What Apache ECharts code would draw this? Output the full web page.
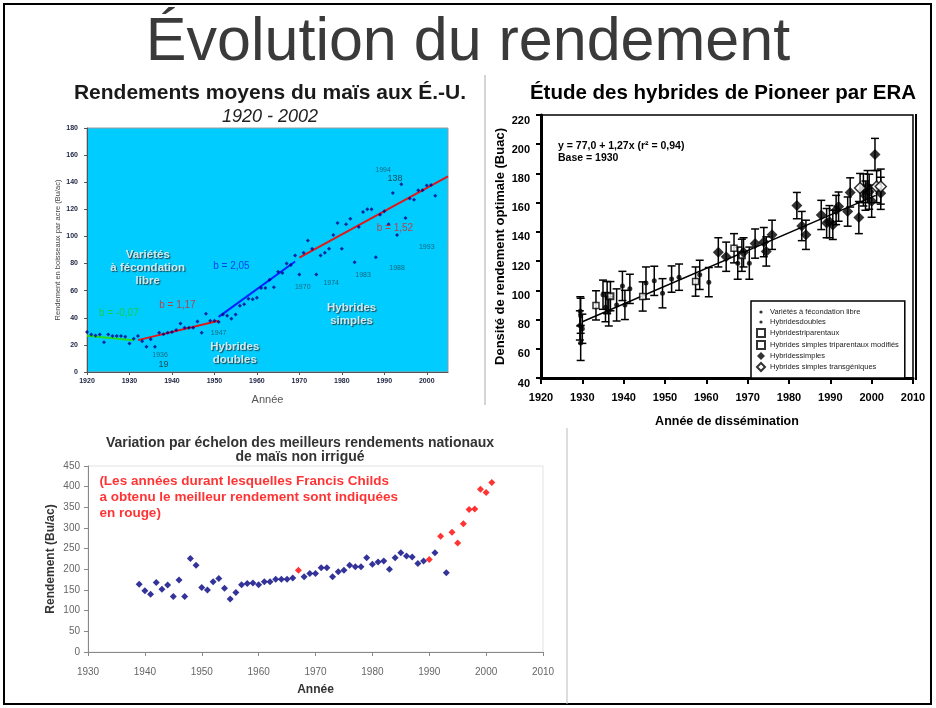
<!DOCTYPE html>
<html>
<head>
<meta charset="utf-8">
<script src="https://cdn.jsdelivr.net/npm/echarts@6/dist/echarts.min.js"></script>
<style>
html, body { margin: 0; padding: 0; background: #fff; }
#main { width: 936px; height: 708px; }
</style>
</head>
<body>
<div id="main"></div>
<script>
// ---- graphique 1 : rendements moyens du maïs aux É.-U. 1920 - 2002
const annees1 = [1920, 1921, 1922, 1923, 1924, 1925, 1926, 1927, 1928, 1929,
	1930, 1931, 1932, 1933, 1934, 1935, 1936, 1937, 1938, 1939,
	1940, 1941, 1942, 1943, 1944, 1945, 1946, 1947, 1948, 1949,
	1950, 1951, 1952, 1953, 1954, 1955, 1956, 1957, 1958, 1959,
	1960, 1961, 1962, 1963, 1964, 1965, 1966, 1967, 1968, 1969,
	1970, 1971, 1972, 1973, 1974, 1975, 1976, 1977, 1978, 1979,
	1980, 1981, 1982, 1983, 1984, 1985, 1986, 1987, 1988, 1989,
	1990, 1991, 1992, 1993, 1994, 1995, 1996, 1997, 1998, 1999,
	2000, 2001, 2002];
const rendements1 = [29.6, 27.6, 27.0, 27.6, 22.0, 27.7, 26.6, 26.6, 26.6, 26.0,
	21.0, 24.5, 26.5, 22.6, 18.7, 24.2, 18.6, 28.9, 27.9, 28.9,
	29.6, 31.0, 35.7, 32.6, 32.6, 32.6, 37.3, 28.9, 43.0, 37.8,
	37.8, 36.9, 42.5, 41.5, 39.3, 42.5, 48.9, 50.0, 54.0, 53.6,
	54.7, 62.0, 62.0, 68.0, 62.5, 74.0, 73.0, 80.0, 79.0, 86.0,
	72.0, 88.0, 97.0, 91.0, 72.0, 86.0, 88.0, 91.0, 101.0, 110.0,
	91.0, 109.0, 113.0, 81.0, 107.0, 118.0, 120.0, 120.0, 84.6, 116.0,
	118.5, 109.0, 132.0, 101.0, 138.5, 113.6, 128.0, 127.0, 134.0, 134.0,
	137.5, 138.0, 130.0];
// droites de tendance (pentes b)
const tendanceLibre = [[1920, 26.7], [1931, 23.5]];
const tendanceAvant = [[1932, 23.5], [1951, 37.8]];
const tendanceDoubles = [[1951, 40.7], [1969, 81.5]];
const tendanceSimples = [[1970, 84.4], [2005, 144.4]];

// ---- graphique 2 : hybrides Pioneer par ERA  [année, rendement, erreur]
const varietesLibres = [[1929.5, 85.6, 10], [1929.6, 82.6, 12], [1929.4, 76, 10], [1930, 73.7, 10], [1929.6, 64, 12]];
const hybridesDoubles = [[1935, 97, 10], [1936, 95, 11], [1935.6, 88.5, 10], [1936.4, 85.6, 10], [1938.3, 90, 11],
	[1939.7, 103, 10], [1940.3, 90, 10], [1941.5, 101, 10], [1945.4, 105, 11], [1947.4, 106.5, 10],
	[1949.4, 98, 10], [1951.6, 107.7, 9], [1953.4, 109, 9], [1958.4, 110.6, 10], [1960.6, 105.6, 10],
	[1967.6, 118.6, 11], [1970.4, 118.6, 11]];
const hybridesTri = [[1933.3, 89.7, 10], [1944.6, 95.8, 10], [1957.4, 106, 10], [1966.7, 128.8, 10]];
const hybridesTriMod = [[1936.8, 96, 10], [1968.6, 124, 11]];
const hybridesSimples = [[1962.9, 126, 10], [1964.8, 123, 10], [1969, 126, 10], [1971.8, 132, 10], [1973.9, 133, 10],
	[1974.5, 126.6, 10], [1975.9, 138, 10], [1981.9, 158, 9], [1983.1, 144, 10], [1984.1, 138, 10],
	[1987.8, 151.6, 10], [1989.1, 146, 10], [1989.8, 147, 11], [1990.6, 144.8, 10], [1991.4, 155, 10],
	[1992, 157.3, 10], [1994.2, 153.9, 10], [1994.8, 167, 10], [1996.9, 149.8, 11], [1998, 168.7, 11],
	[1998.5, 164.8, 10], [1999, 171, 11], [1999.4, 167.5, 12], [2000, 161, 11], [2000.8, 193, 11],
	[2002.2, 166.4, 11]];
const hybridesTransgeniques = [[1997.2, 170, 10], [2001.2, 171, 11], [2002.2, 171, 12]];
const droitePioneer = [[1930, 78.5], [2001, 165]];

// ---- graphique 3 : meilleurs rendements nationaux, maïs non irrigué
const anneesBleu = [1939, 1940, 1941, 1942, 1943, 1944, 1945, 1946, 1947, 1948,
	1949, 1950, 1951, 1952, 1953, 1954, 1955, 1956, 1957, 1958,
	1959, 1960, 1961, 1962, 1963, 1964, 1965, 1966, 1968, 1969,
	1970, 1971, 1972, 1973, 1974, 1975, 1976, 1977, 1978, 1979,
	1980, 1981, 1982, 1983, 1984, 1985, 1986, 1987, 1988, 1989,
	1991, 1993];
const rendBleu = [164, 148, 140, 168, 152, 162, 134, 174, 134, 226,
	210, 156, 150, 170, 178, 154, 128, 144, 163, 166,
	167, 163, 170, 170, 176, 176, 176, 179, 182, 190,
	190, 204, 204, 182, 194, 198, 210, 206, 206, 228,
	212, 218, 220, 200, 228, 240, 232, 230, 214, 220,
	240, 192];
const anneesRouge = [1967, 1990, 1992, 1994, 1995, 1996, 1997, 1998, 1999, 2000, 2001];
const rendRouge = [198, 224, 280, 290, 264, 310, 345, 346, 394, 386, 410];

const POLICE = '"Liberation Sans", Arial, sans-serif';

// textes posés sur le graphique 1 (coordonnées en données)
const notes1 = [
	{ t: 'b = -0,07', p: [1927.5, 43], c: '#19d019', s: 10 },
	{ t: 'b = 1,17', p: [1941.3, 49.4], c: '#e02020', s: 10 },
	{ t: 'b = 2,05', p: [1954, 78], c: '#0022ee', s: 10 },
	{ t: 'b = 1,52', p: [1992.5, 105.7], c: '#e02020', s: 10 },
	{ t: '1994', p: [1989.7, 149], c: '#1d4f5e', s: 7 },
	{ t: '138', p: [1992.5, 142.7], c: '#1a2a30', s: 9 },
	{ t: '1993', p: [2000, 92], c: '#1d4f5e', s: 7 },
	{ t: '1988', p: [1993, 77], c: '#1d4f5e', s: 7 },
	{ t: '1983', p: [1985, 71.6], c: '#1d4f5e', s: 7 },
	{ t: '1974', p: [1977.5, 65.4], c: '#1d4f5e', s: 7 },
	{ t: '1970', p: [1970.8, 63], c: '#1d4f5e', s: 7 },
	{ t: '1947', p: [1951, 28.4], c: '#1d4f5e', s: 7 },
	{ t: '1936', p: [1937.2, 12.3], c: '#1d4f5e', s: 7 },
	{ t: '19', p: [1938, 5.4], c: '#1a2a30', s: 9 }
];
const blocs1 = [
	{ t: 'Variétés\nà fécondation\nlibre', p: [1934.3, 76.5] },
	{ t: 'Hybrides\ndoubles', p: [1954.8, 13.8] },
	{ t: 'Hybrides\nsimples', p: [1982.3, 42.3] }
];

function paires(xs, ys) {
	return xs.map((x, i) => [x, ys[i]]);
}

function barreErreur(params, api) {
	const x = api.value(0), y = api.value(1), e = api.value(2);
	const haut = api.coord([x, y + e]);
	const bas = api.coord([x, y - e]);
	const style = { stroke: '#000', lineWidth: 1.5 };
	return {
		type: 'group',
		children: [
			{ type: 'line', shape: { x1: haut[0], y1: haut[1], x2: bas[0], y2: bas[1] }, style: style },
			{ type: 'line', shape: { x1: haut[0] - 4, y1: haut[1], x2: haut[0] + 4, y2: haut[1] }, style: style },
			{ type: 'line', shape: { x1: bas[0] - 4, y1: bas[1], x2: bas[0] + 4, y2: bas[1] }, style: style }
		]
	};
}

const tousPioneer = [].concat(varietesLibres, hybridesDoubles, hybridesTri, hybridesTriMod, hybridesSimples, hybridesTransgeniques);
const petitRond = 'path://M0,0M10,10M3,5a2,2 0 1,0 4,0a2,2 0 1,0 -4,0';
const entier = v => String(v);

const myChart = echarts.init(document.getElementById('main'));

const option = {
	animation: false,
	textStyle: { fontFamily: POLICE },
	grid: [
		{ left: 87, top: 128, width: 361, height: 244, show: true, backgroundColor: '#00ccff', borderColor: '#9a9a9a', borderWidth: 1, outerBoundsMode: 'none' },
		{ left: 541, top: 115, width: 372, height: 263, show: true, backgroundColor: '#fff', borderColor: '#000', borderWidth: 1.5, outerBoundsMode: 'none' },
		{ left: 88, top: 466, width: 455, height: 186, show: true, backgroundColor: '#fff', borderColor: '#e2e2e2', borderWidth: 1, outerBoundsMode: 'none' }
	],
	xAxis: [
		{
			gridIndex: 0, type: 'value', min: 1920, max: 2005, interval: 10,
			axisLine: { show: true, onZero: false, lineStyle: { color: '#555' } },
			axisTick: { show: true, length: 3, lineStyle: { color: '#555' } },
			axisLabel: { fontSize: 7, color: '#1c2240', fontWeight: 'bold', margin: 6, showMaxLabel: false, formatter: entier },
			splitLine: { show: false },
			name: 'Année', nameLocation: 'middle', nameGap: 22,
			nameTextStyle: { fontSize: 11, color: '#555' }
		},
		{
			gridIndex: 1, type: 'value', min: 1920, max: 2010, interval: 10,
			axisLine: { show: true, onZero: false, lineStyle: { color: '#000', width: 3 } },
			axisTick: { show: true, length: 6, lineStyle: { color: '#000', width: 2 } },
			axisLabel: { fontSize: 11, color: '#000', fontWeight: 'bold', margin: 14, formatter: entier },
			splitLine: { show: false },
			name: 'Année de dissémination', nameLocation: 'middle', nameGap: 37,
			nameTextStyle: { fontSize: 12.5, color: '#000', fontWeight: 'bold' }
		},
		{
			gridIndex: 2, type: 'value', min: 1930, max: 2010, interval: 10,
			axisLine: { show: true, onZero: false, lineStyle: { color: '#888' } },
			axisTick: { show: true, length: 4, lineStyle: { color: '#888' } },
			axisLabel: { fontSize: 10, color: '#666', margin: 15, formatter: entier },
			splitLine: { show: false },
			name: 'Année', nameLocation: 'middle', nameGap: 32,
			nameTextStyle: { fontSize: 12, color: '#333', fontWeight: 'bold' }
		}
	],
	yAxis: [
		{
			gridIndex: 0, type: 'value', min: 0, max: 180, interval: 20,
			axisLine: { show: true, lineStyle: { color: '#555' } },
			axisTick: { show: true, length: 3, lineStyle: { color: '#555' } },
			axisLabel: { fontSize: 7, color: '#1c2240', fontWeight: 'bold', margin: 9 },
			splitLine: { show: false },
			name: 'Rendement en boisseaux par acre (Bu/ac)', nameLocation: 'middle', nameGap: 15,
			nameTextStyle: { fontSize: 7.5, color: '#444' }
		},
		{
			gridIndex: 1, type: 'value', min: 40, max: 220, interval: 20,
			axisLine: { show: true, lineStyle: { color: '#000', width: 3 } },
			axisTick: { show: true, length: 5, lineStyle: { color: '#000', width: 2 } },
			axisLabel: { fontSize: 11, color: '#000', fontWeight: 'bold', margin: 11, verticalAlign: 'top' },
			splitLine: { show: false },
			name: 'Densité de rendement optimale (Buac)', nameLocation: 'middle', nameGap: 34,
			nameTextStyle: { fontSize: 13, color: '#000', fontWeight: 'bold' }
		},
		{
			gridIndex: 2, type: 'value', min: 0, max: 450, interval: 50,
			axisLine: { show: true, lineStyle: { color: '#888' } },
			axisTick: { show: true, length: 4, lineStyle: { color: '#888' } },
			axisLabel: { fontSize: 10, color: '#666', margin: 8 },
			splitLine: { show: false },
			name: 'Rendement (Bu/ac)', nameLocation: 'middle', nameGap: 31,
			nameTextStyle: { fontSize: 12, color: '#333', fontWeight: 'bold' }
		}
	],
	legend: {
		data: [
			{ name: 'Variétés à fécondation libre', icon: petitRond },
			{ name: 'Hybridesdoubles', icon: petitRond },
			{ name: 'Hybridestriparentaux', icon: 'rect' },
			{ name: 'Hybrides simples triparentaux modifiés', icon: 'rect' },
			{ name: 'Hybridessimples', icon: 'diamond' },
			{ name: 'Hybrides simples transgéniques', icon: 'diamond' }
		],
		orient: 'vertical', left: 751, top: 301,
		itemWidth: 8, itemHeight: 8, itemGap: 2,
		padding: [7, 6, 6, 5],
		borderColor: '#000', borderWidth: 1.5, backgroundColor: '#fff',
		selectedMode: false,
		textStyle: { fontSize: 7.5, color: '#222', fontFamily: POLICE }
	},
	graphic: [
		{ type: 'rect', shape: { x: 4, y: 4, width: 927, height: 700 }, style: { fill: 'none', stroke: '#000', lineWidth: 2 }, silent: true },
		{ type: 'line', shape: { x1: 485, y1: 75, x2: 485, y2: 405 }, style: { stroke: '#aaa', lineWidth: 1 } },
		{ type: 'line', shape: { x1: 567, y1: 428, x2: 567, y2: 704 }, style: { stroke: '#bbb', lineWidth: 1 } },
		{ type: 'line', shape: { x1: 916, y1: 114, x2: 916, y2: 380 }, style: { stroke: '#000', lineWidth: 2 } },
		{
			type: 'text', x: 468, y: 43,
			style: {
				text: 'Évolution du rendement', fontSize: 61, fontFamily: POLICE,
				fill: '#3a3a3a', align: 'center', verticalAlign: 'middle',
				textShadowColor: '#aaa', textShadowOffsetX: 3, textShadowOffsetY: 3
			}
		},
		{
			type: 'text', x: 270, y: 93,
			style: {
				text: 'Rendements moyens du maïs aux É.-U.', fontSize: 21, fontWeight: 'bold', fontFamily: POLICE,
				fill: '#1a1a1a', align: 'center', verticalAlign: 'middle',
				textShadowColor: '#999', textShadowOffsetX: 2, textShadowOffsetY: 2
			}
		},
		{
			type: 'text', x: 270, y: 117,
			style: {
				text: '1920 - 2002', fontSize: 18, fontStyle: 'italic', fontFamily: POLICE,
				fill: '#222', align: 'center', verticalAlign: 'middle',
				textShadowColor: '#aaa', textShadowOffsetX: 1, textShadowOffsetY: 1
			}
		},
		{
			type: 'text', x: 723, y: 93,
			style: {
				text: 'Étude des hybrides de Pioneer par ERA', fontSize: 20.5, fontWeight: 'bold', fontFamily: POLICE,
				fill: '#000', align: 'center', verticalAlign: 'middle'
			}
		},
		{
			type: 'text', x: 558, y: 152,
			style: {
				text: 'y = 77,0 + 1,27x (r² = 0,94)\nBase = 1930', fontSize: 10.5, fontWeight: 'bold', fontFamily: POLICE,
				lineHeight: 12, fill: '#000', align: 'left', verticalAlign: 'middle'
			}
		},
		{
			type: 'text', x: 300, y: 450,
			style: {
				text: 'Variation par échelon des meilleurs rendements nationaux\nde maïs non irrigué',
				fontSize: 14, fontWeight: 'bold', fontFamily: POLICE, lineHeight: 14,
				fill: '#333', align: 'center', verticalAlign: 'middle',
				textShadowColor: '#aaa', textShadowOffsetX: 1, textShadowOffsetY: 1
			}
		}
	],
	series: [
		// graphique 1
		{
			type: 'scatter', xAxisIndex: 0, yAxisIndex: 0,
			data: paires(annees1, rendements1),
			symbol: 'diamond', symbolSize: 4, itemStyle: { color: '#00008b' }, z: 4
		},
		{ type: 'line', xAxisIndex: 0, yAxisIndex: 0, data: tendanceLibre, symbol: 'none', lineStyle: { color: '#22dd22', width: 2 }, z: 3 },
		{ type: 'line', xAxisIndex: 0, yAxisIndex: 0, data: tendanceAvant, symbol: 'none', lineStyle: { color: '#e01818', width: 2 }, z: 3 },
		{ type: 'line', xAxisIndex: 0, yAxisIndex: 0, data: tendanceDoubles, symbol: 'none', lineStyle: { color: '#0022ff', width: 2 }, z: 3 },
		{ type: 'line', xAxisIndex: 0, yAxisIndex: 0, data: tendanceSimples, symbol: 'none', lineStyle: { color: '#e01818', width: 2 }, z: 3 },
		{
			type: 'scatter', xAxisIndex: 0, yAxisIndex: 0, silent: true, z: 6,
			symbolSize: 1, itemStyle: { color: 'rgba(0,0,0,0)' },
			data: notes1.map(n => ({
				value: n.p,
				label: { show: true, position: 'inside', formatter: n.t, color: n.c, fontSize: n.s, fontFamily: POLICE }
			}))
		},
		{
			type: 'scatter', xAxisIndex: 0, yAxisIndex: 0, silent: true, z: 6,
			symbolSize: 1, itemStyle: { color: 'rgba(0,0,0,0)' },
			label: {
				show: true, position: 'inside', formatter: p => p.data.t,
				color: '#fff', fontSize: 11.5, fontWeight: 'bold', lineHeight: 13, fontFamily: POLICE, align: 'center',
				textShadowColor: '#222', textShadowOffsetX: 1, textShadowOffsetY: 1, textShadowBlur: 1
			},
			data: blocs1.map(b => ({ value: b.p, t: b.t }))
		},
		// graphique 2
		{
			type: 'custom', xAxisIndex: 1, yAxisIndex: 1, renderItem: barreErreur,
			data: tousPioneer, encode: { x: 0, y: 1 }, silent: true, z: 2
		},
		{
			type: 'line', xAxisIndex: 1, yAxisIndex: 1, data: droitePioneer, symbol: 'none',
			lineStyle: { color: '#000', width: 1.5 }, z: 3
		},
		{ name: 'Variétés à fécondation libre', type: 'scatter', xAxisIndex: 1, yAxisIndex: 1, data: varietesLibres, symbol: 'circle', symbolSize: 5, itemStyle: { color: '#000' }, z: 4 },
		{ name: 'Hybridesdoubles', type: 'scatter', xAxisIndex: 1, yAxisIndex: 1, data: hybridesDoubles, symbol: 'circle', symbolSize: 5, itemStyle: { color: '#000' }, z: 4 },
		{ name: 'Hybridestriparentaux', type: 'scatter', xAxisIndex: 1, yAxisIndex: 1, data: hybridesTri, symbol: 'rect', symbolSize: 6, itemStyle: { color: '#fff', borderColor: '#000', borderWidth: 1.5 }, z: 4 },
		{ name: 'Hybrides simples triparentaux modifiés', type: 'scatter', xAxisIndex: 1, yAxisIndex: 1, data: hybridesTriMod, symbol: 'rect', symbolSize: 6, itemStyle: { color: '#fff', borderColor: '#000', borderWidth: 2 }, z: 4 },
		{ name: 'Hybridessimples', type: 'scatter', xAxisIndex: 1, yAxisIndex: 1, data: hybridesSimples, symbol: 'diamond', symbolSize: 11, itemStyle: { color: '#000' }, z: 4 },
		{ name: 'Hybrides simples transgéniques', type: 'scatter', xAxisIndex: 1, yAxisIndex: 1, data: hybridesTransgeniques, symbol: 'diamond', symbolSize: 11, itemStyle: { color: '#fff', borderColor: '#000', borderWidth: 1.5 }, z: 4 },
		// graphique 3
		{
			type: 'scatter', xAxisIndex: 2, yAxisIndex: 2, data: paires(anneesBleu, rendBleu),
			symbol: 'diamond', symbolSize: 7, itemStyle: { color: '#000080' }
		},
		{
			type: 'scatter', xAxisIndex: 2, yAxisIndex: 2, data: paires(anneesRouge, rendRouge),
			symbol: 'diamond', symbolSize: 7, itemStyle: { color: '#ff0000' }
		},
		{
			type: 'scatter', xAxisIndex: 2, yAxisIndex: 2, silent: true, z: 6,
			symbolSize: 1, itemStyle: { color: 'rgba(0,0,0,0)' },
			label: {
				show: true, position: 'inside', align: 'left', formatter: p => p.data.t,
				color: '#ff0000', fontSize: 13.5, fontWeight: 'bold', lineHeight: 16, fontFamily: POLICE,
				textShadowColor: '#999', textShadowOffsetX: 1, textShadowOffsetY: 1
			},
			data: [{ value: [1932, 374], t: '(Les années durant lesquelles Francis Childs\na obtenu le meilleur rendement sont indiquées\nen rouge)' }]
		}
	]
};

myChart.setOption(option);
</script>
</body>
</html>
